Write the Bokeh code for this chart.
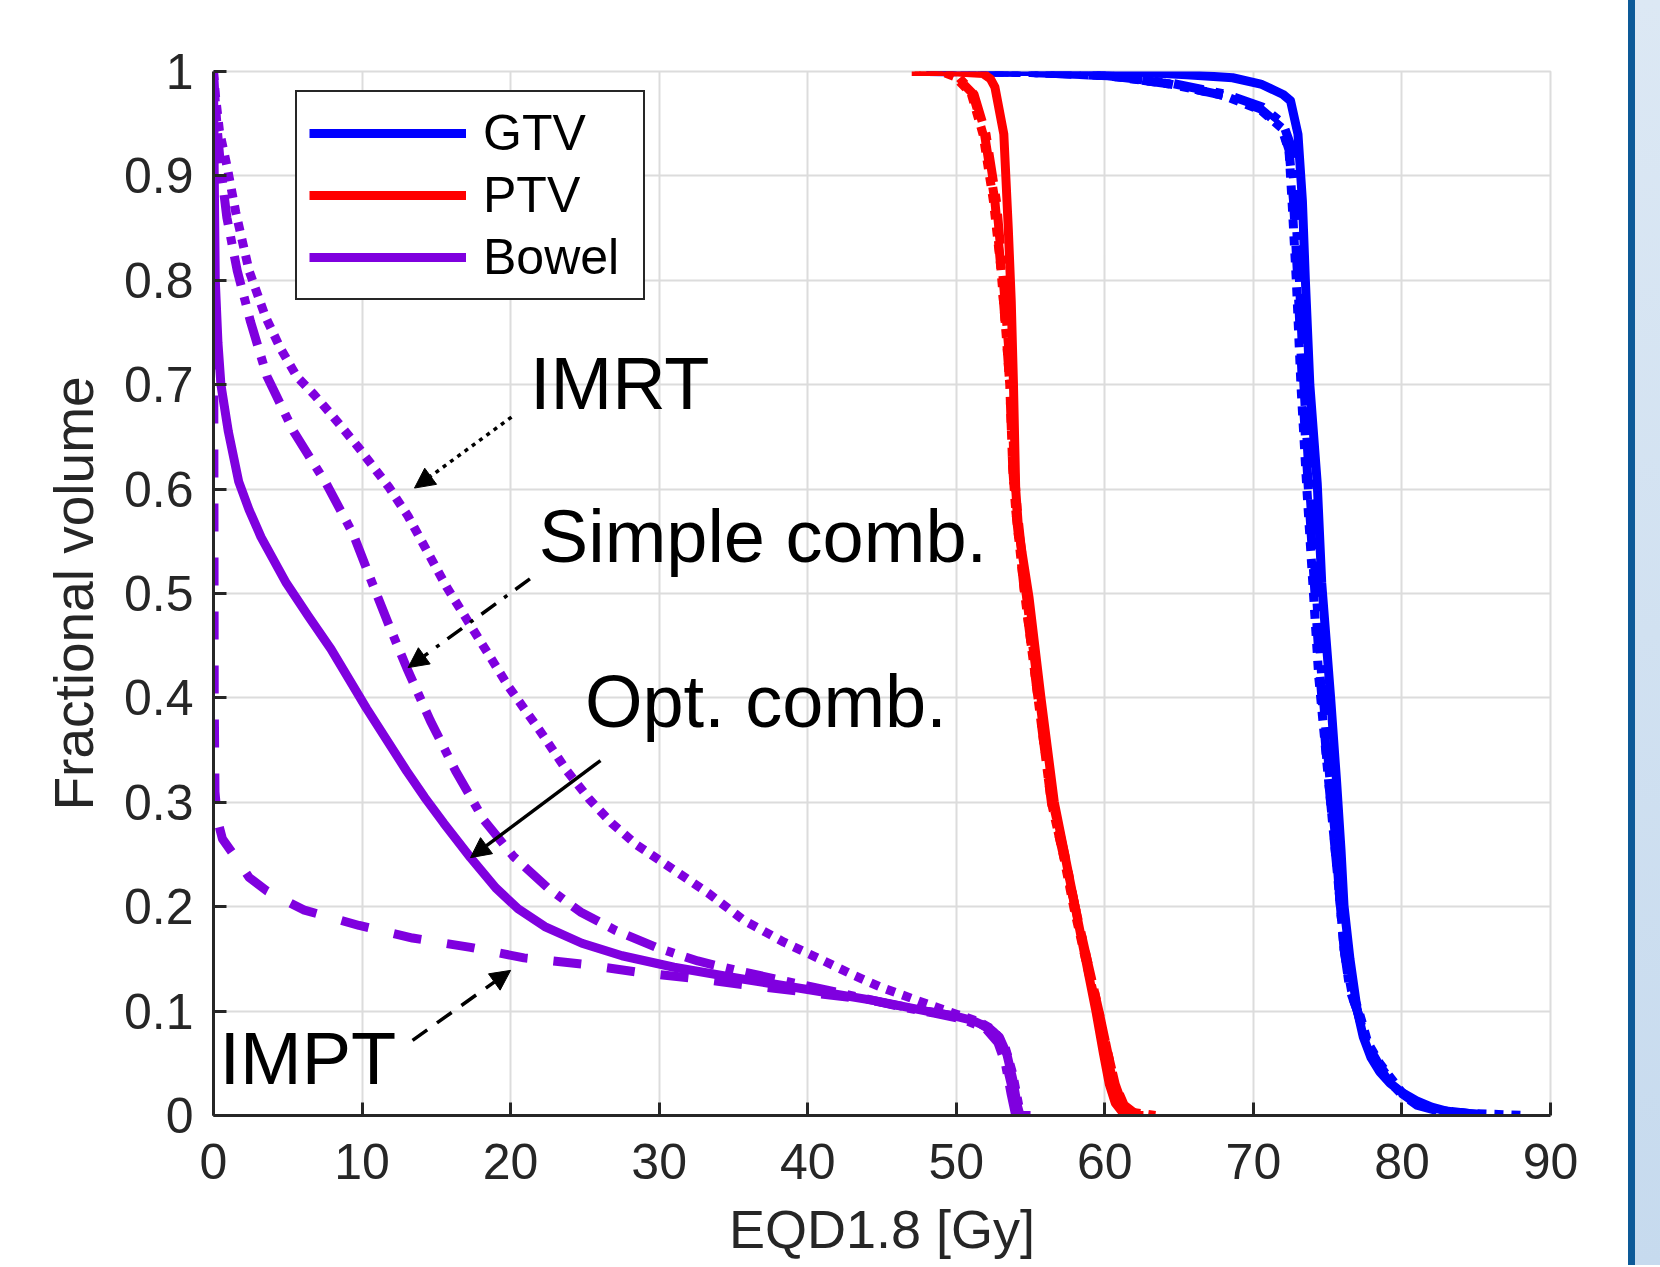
from bokeh.plotting import figure
from bokeh.models import (Range1d, FixedTicker, NumeralTickFormatter, Legend, LegendItem,
                          Label, Arrow, NormalHead, Div)
from bokeh.layouts import row
from bokeh.embed import file_html
from bokeh.resources import INLINE

# ---------------- data ----------------
x_ticks = [0, 10, 20, 30, 40, 50, 60, 70, 80, 90]
y_ticks = [0, 0.1, 0.2, 0.3, 0.4, 0.5, 0.6, 0.7, 0.8, 0.9, 1.0]

# GTV (blue)
gtv_opt_x = [48.0, 55.0, 60.0, 62.7, 65.5, 68.6, 70.5, 71.4, 72.0, 72.5, 73.0, 73.3, 73.5, 73.8, 74.3, 74.6, 75.2, 75.6, 75.9, 76.1, 76.5, 77.0, 77.4, 77.9, 78.5, 79.2, 80.0, 81.0, 82.0, 83.3, 85.3]
gtv_opt_y = [1.0, 1.0, 1.0, 0.999, 0.997, 0.994, 0.988, 0.982, 0.978, 0.972, 0.94, 0.876, 0.80, 0.70, 0.605, 0.51, 0.40, 0.32, 0.254, 0.201, 0.15, 0.10, 0.075, 0.056, 0.042, 0.031, 0.022, 0.014, 0.008, 0.003, 0.001]
gtv_imrt_x = [48.0, 55.0, 60.2, 64.4, 68.0, 70.5, 71.9, 72.4, 72.6, 72.9, 73.2, 73.6, 74.0, 74.4, 75.0, 75.4, 75.8, 76.1, 76.6, 77.1, 77.7, 78.5, 79.3, 80.0, 81.0, 82.5, 84.5, 86.5, 88.2]
gtv_imrt_y = [1.0, 0.999, 0.996, 0.988, 0.977, 0.963, 0.946, 0.924, 0.876, 0.797, 0.70, 0.60, 0.51, 0.42, 0.33, 0.27, 0.21, 0.16, 0.12, 0.10, 0.07, 0.05, 0.035, 0.022, 0.012, 0.005, 0.002, 0.001, 0.0]
gtv_simple_x = [48.0, 55.0, 60.2, 64.4, 68.2, 70.6, 72.0, 72.5, 72.8, 73.1, 73.4, 73.8, 74.2, 74.6, 75.1, 75.5, 75.8, 76.1, 76.5, 77.0, 77.6, 78.3, 79.1, 80.0, 81.0, 82.5, 85.0]
gtv_simple_y = [1.0, 0.999, 0.996, 0.989, 0.978, 0.966, 0.95, 0.93, 0.88, 0.80, 0.70, 0.60, 0.51, 0.42, 0.33, 0.27, 0.21, 0.16, 0.12, 0.10, 0.07, 0.05, 0.033, 0.02, 0.01, 0.004, 0.0]
gtv_impt_x = [48.0, 55.0, 60.2, 64.4, 68.0, 70.5, 71.9, 72.4, 72.7, 73.0, 73.3, 73.7, 74.1, 74.5, 75.0, 75.4, 75.8, 76.1, 76.5, 77.0, 77.6, 78.4, 79.2, 80.0, 81.0, 82.5, 84.5, 86.0]
gtv_impt_y = [1.0, 0.999, 0.996, 0.988, 0.977, 0.964, 0.947, 0.925, 0.876, 0.797, 0.70, 0.60, 0.51, 0.42, 0.33, 0.27, 0.21, 0.16, 0.12, 0.10, 0.07, 0.05, 0.034, 0.021, 0.011, 0.005, 0.002, 0.0]

# PTV (red)
ptv_opt_x = [49.5, 51.8, 52.3, 52.6, 53.2, 53.5, 53.7, 53.85, 54.0, 54.2, 54.9, 55.7, 56.6, 57.3, 58.0, 58.7, 59.4, 59.9, 60.3, 60.7, 61.2, 61.6, 62.6]
ptv_opt_y = [1.0, 0.998, 0.993, 0.985, 0.94, 0.85, 0.78, 0.70, 0.60, 0.56, 0.496, 0.40, 0.30, 0.25, 0.20, 0.15, 0.10, 0.06, 0.03, 0.012, 0.003, 0.0, 0.0]
ptv_imrt_x = [47.0, 49.0, 49.9, 51.0, 51.8, 52.5, 53.0, 53.4, 53.6, 53.8, 54.0, 54.6, 55.5, 56.4, 57.2, 57.9, 58.7, 59.5, 60.1, 60.6, 61.1, 61.9, 63.4]
ptv_imrt_y = [1.0, 1.0, 0.995, 0.979, 0.94, 0.876, 0.812, 0.74, 0.70, 0.62, 0.58, 0.50, 0.40, 0.30, 0.25, 0.20, 0.15, 0.10, 0.06, 0.03, 0.01, 0.003, 0.0]
ptv_simple_x = [47.5, 49.3, 50.2, 51.2, 52.0, 52.7, 53.1, 53.5, 53.7, 53.9, 54.1, 54.7, 55.6, 56.5, 57.3, 58.0, 58.8, 59.6, 60.2, 60.7, 61.2, 62.0]
ptv_simple_y = [1.0, 1.0, 0.994, 0.978, 0.94, 0.876, 0.812, 0.74, 0.70, 0.62, 0.58, 0.50, 0.40, 0.30, 0.25, 0.20, 0.15, 0.10, 0.06, 0.03, 0.01, 0.0]
ptv_impt_x = [47.2, 49.1, 50.0, 51.1, 51.9, 52.6, 53.0, 53.4, 53.6, 53.8, 54.0, 54.6, 55.5, 56.4, 57.2, 58.0, 58.8, 59.6, 60.2, 60.7, 61.3, 62.2]
ptv_impt_y = [1.0, 1.0, 0.995, 0.979, 0.94, 0.876, 0.812, 0.74, 0.70, 0.62, 0.58, 0.50, 0.40, 0.30, 0.25, 0.20, 0.15, 0.10, 0.06, 0.03, 0.01, 0.0]

# Bowel (purple)
bowel_opt_x = [0.0, 0.05, 0.12, 0.3, 0.5, 1.0, 1.7, 2.4, 3.2, 4.9, 6.4, 7.9, 10.3, 13.0, 14.2, 15.5, 17.3, 19.0, 20.5, 22.3, 24.8, 27.5, 31.0, 35.5, 40.3, 44.5, 48.0, 50.0, 51.1, 52.2, 52.9, 53.4, 53.8, 54.1, 54.3, 55.0]
bowel_opt_y = [1.0, 0.9, 0.8, 0.74, 0.70, 0.655, 0.607, 0.58, 0.554, 0.51, 0.478, 0.447, 0.39, 0.33, 0.305, 0.28, 0.247, 0.218, 0.198, 0.181, 0.165, 0.153, 0.142, 0.131, 0.120, 0.110, 0.100, 0.095, 0.091, 0.084, 0.075, 0.059, 0.035, 0.010, 0.0, 0.0]
bowel_simple_x = [0.0, 0.1, 0.25, 0.47, 0.9, 1.6, 2.5, 3.6, 5.4, 7.6, 9.4, 10.6, 11.8, 13.0, 14.6, 16.3, 18.2, 20.2, 22.5, 24.7, 27.1, 29.8, 32.6, 35.5, 38.4, 42.0, 46.0, 48.5, 50.5, 52.0, 52.8, 53.3, 53.7, 54.0]
bowel_simple_y = [1.0, 0.975, 0.945, 0.91, 0.86, 0.809, 0.76, 0.708, 0.655, 0.605, 0.557, 0.513, 0.47, 0.429, 0.378, 0.33, 0.283, 0.248, 0.218, 0.195, 0.177, 0.161, 0.148, 0.138, 0.129, 0.118, 0.105, 0.098, 0.092, 0.083, 0.07, 0.05, 0.02, 0.0]
bowel_imrt_x = [0.0, 0.13, 0.4, 0.9, 1.5, 2.4, 3.5, 4.5, 5.6, 6.8, 7.9, 9.7, 11.8, 13.1, 15.7, 17.8, 19.9, 21.9, 23.8, 25.3, 26.8, 28.5, 30.5, 33.3, 35.7, 38.4, 41.1, 43.0, 44.9, 48.0, 50.0, 51.5, 52.5, 53.3, 53.8, 54.2, 54.5]
bowel_imrt_y = [1.0, 0.977, 0.943, 0.91, 0.865, 0.809, 0.765, 0.735, 0.708, 0.69, 0.672, 0.641, 0.602, 0.574, 0.506, 0.458, 0.41, 0.37, 0.33, 0.303, 0.28, 0.259, 0.24, 0.213, 0.187, 0.166, 0.148, 0.135, 0.123, 0.107, 0.097, 0.09, 0.082, 0.065, 0.04, 0.01, 0.0]
bowel_impt_x = [0.0, 0.02, 0.05, 0.1, 0.27, 0.6, 1.3, 2.4, 3.6, 6.06, 9.8, 13.4, 17.3, 20.9, 24.8, 28.7, 32.6, 36.4, 40.0, 44.0, 48.0, 50.0, 51.5, 52.5, 53.2, 53.7, 54.0, 54.2]
bowel_impt_y = [1.0, 0.7, 0.4, 0.31, 0.283, 0.265, 0.251, 0.228, 0.215, 0.197, 0.182, 0.170, 0.161, 0.151, 0.145, 0.137, 0.131, 0.124, 0.118, 0.111, 0.100, 0.095, 0.089, 0.08, 0.06, 0.03, 0.005, 0.0]

# annotations: texts and arrows
ann_texts = ["IMRT", "Simple comb.", "Opt. comb.", "IMPT"]
ann_text_x = [21.3, 21.9, 25.0, 0.4]
ann_text_y = [0.701, 0.555, 0.397, 0.055]
arrow_x0 = [20.06, 21.3, 26.05, 13.4]
arrow_y0 = [0.669, 0.514, 0.340, 0.072]
arrow_x1 = [13.53, 13.1, 17.3, 20.0]
arrow_y1 = [0.601, 0.429, 0.247, 0.139]

# ---------------- styling ----------------
BLUE = "#0000ff"
RED = "#ff0000"
PURPLE = "#7f00df"
FONT = "Liberation Sans"
AXC = "#262626"
LW = 9
DOT = "9 8"
DASH = "28 26"
DASHDOT = "30 12 8 12"

p = figure(width=1628, height=1265, x_range=Range1d(0, 90), y_range=Range1d(0, 1),
           output_backend="svg", toolbar_location=None,
           min_border_left=213, min_border_right=78, min_border_top=71, min_border_bottom=150)
p.background_fill_color = "white"
p.border_fill_color = "white"
p.outline_line_color = "#dcdcdc"
p.outline_line_width = 2

for ax in (p.xaxis[0], p.yaxis[0]):
    ax.axis_line_color = AXC
    ax.axis_line_width = 3
    ax.major_tick_line_color = AXC
    ax.major_tick_line_width = 3
    ax.major_tick_in = 13
    ax.major_tick_out = 0
    ax.minor_tick_line_color = None
    ax.major_label_text_font = FONT
    ax.major_label_text_font_size = "50px"
    ax.major_label_text_color = AXC
    ax.axis_label_text_font = FONT
    ax.axis_label_text_font_style = "normal"
    ax.axis_label_text_color = AXC

p.xaxis.axis_label_text_font_size = "54px"
p.yaxis.axis_label_text_font_size = "55px"
p.xaxis.ticker = FixedTicker(ticks=x_ticks)
p.yaxis.ticker = FixedTicker(ticks=y_ticks)
p.yaxis.formatter = NumeralTickFormatter(format="0.[0]")
p.xaxis.major_label_standoff = 28
p.yaxis.major_label_standoff = 20
p.xaxis.axis_label = "EQD1.8 [Gy]"
p.yaxis.axis_label = "Fractional volume"
p.xaxis.axis_label_standoff = 17
p.yaxis.axis_label_standoff = 16

p.xgrid.ticker = FixedTicker(ticks=x_ticks)
p.ygrid.ticker = FixedTicker(ticks=y_ticks)
for g in (p.xgrid[0], p.ygrid[0]):
    g.grid_line_color = "#dcdcdc"
    g.grid_line_width = 2

def draw(x, y, color, dash):
    return p.line(x, y, line_color=color, line_width=LW, line_dash=dash, line_join="round")

# GTV
draw(gtv_imrt_x, gtv_imrt_y, BLUE, DOT)
draw(gtv_impt_x, gtv_impt_y, BLUE, DASH)
draw(gtv_simple_x, gtv_simple_y, BLUE, DASHDOT)
r_gtv = draw(gtv_opt_x, gtv_opt_y, BLUE, "solid")
# PTV
draw(ptv_imrt_x, ptv_imrt_y, RED, DOT)
draw(ptv_impt_x, ptv_impt_y, RED, DASH)
draw(ptv_simple_x, ptv_simple_y, RED, DASHDOT)
r_ptv = draw(ptv_opt_x, ptv_opt_y, RED, "solid")
# Bowel
draw(bowel_imrt_x, bowel_imrt_y, PURPLE, DOT)
draw(bowel_impt_x, bowel_impt_y, PURPLE, DASH)
draw(bowel_simple_x, bowel_simple_y, PURPLE, DASHDOT)
r_bowel = draw(bowel_opt_x, bowel_opt_y, PURPLE, "solid")

# annotations
arrow_dash = ["4 5", "18 10 4 10", "solid", "18 12"]
for i in range(4):
    p.add_layout(Label(x=ann_text_x[i], y=ann_text_y[i], text=ann_texts[i],
                       text_font=FONT, text_font_size="74px", text_color="black",
                       text_baseline="alphabetic", text_align="left"))
    p.add_layout(Arrow(x_start=arrow_x0[i], y_start=arrow_y0[i],
                       x_end=arrow_x1[i], y_end=arrow_y1[i],
                       line_color="black", line_width=3.5, line_dash=arrow_dash[i],
                       end=NormalHead(size=20, fill_color="black", line_color="black", line_width=1)))

legend = Legend(items=[LegendItem(label="GTV", renderers=[r_gtv]),
                       LegendItem(label="PTV", renderers=[r_ptv]),
                       LegendItem(label="Bowel", renderers=[r_bowel])],
                location=(82, 815))
legend.label_text_font = FONT
legend.label_text_font_size = "50px"
legend.label_text_color = "black"
legend.glyph_width = 157
legend.glyph_height = 40
legend.label_height = 40
legend.label_width = 148
legend.label_standoff = 17
legend.spacing = 4
legend.padding = 12
legend.margin = 0
legend.border_line_color = AXC
legend.border_line_alpha = 1.0
legend.border_line_width = 2
legend.background_fill_color = "white"
legend.background_fill_alpha = 1.0
p.add_layout(legend)

strip = Div(text="", width=32, height=1265, margin=0,
            styles={"background": "linear-gradient(to right, #0d5a98 0px, #0d5a98 7px, transparent 7px), linear-gradient(to bottom, #dce8f4, #c6daee)"})

layout = row(p, strip, spacing=0)
open("out.html", "w").write(file_html(layout, INLINE))
